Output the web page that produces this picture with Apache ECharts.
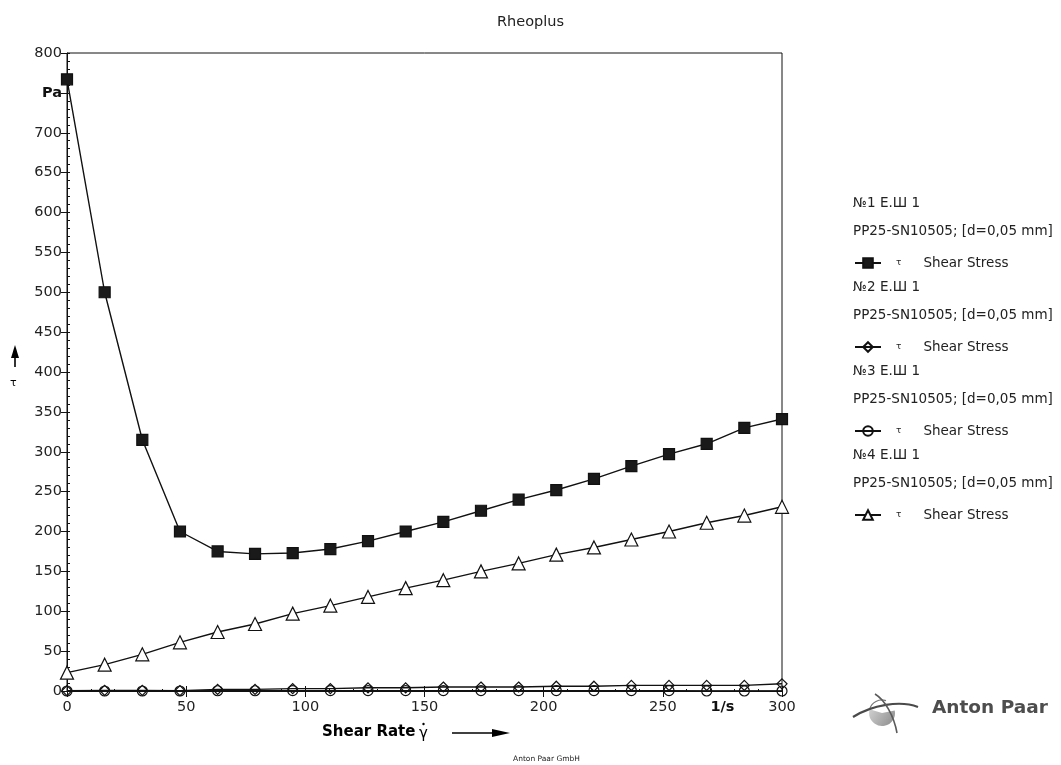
<!DOCTYPE html>
<html><head><meta charset="utf-8">
<script src="https://cdn.jsdelivr.net/npm/echarts@6/dist/echarts.min.js"></script>
<style>html,body{margin:0;background:#fff}#c{width:1061px;height:765px}</style>
</head><body><div id="c"></div>
<script>
const shearRate=[0,15.8,31.6,47.4,63.2,78.9,94.7,110.5,126.3,142.1,157.9,173.7,189.5,205.3,221.1,236.8,252.6,268.4,284.2,300];
const stress1=[767,500,315,200,175,172,173,178,188,200,212,226,240,252,266,282,297,310,330,341];
const stress2=[0.5,0.8,0.8,0.5,2,2,3,3,4,4,5,5,5,6,6,7,7,7,7,9];
const stress3=[0,0,0,0,0.3,0.3,0.5,0.5,0.5,0.5,0.5,0.5,0.5,0.5,0.5,0.5,0.5,0,0,0];
const stress4=[23,33,46,61,74,84,97,107,118,129,139,150,160,171,180,190,200,211,220,231];
const xLabelValues=[0,50,100,150,200,250,275,300];
const xUnitAt=275, xUnit='1/s';
const yUnitAt=750, yUnit='Pa';
const sampleNames=['№1 Е.Ш 1','№2 Е.Ш 1','№3 Е.Ш 1','№4 Е.Ш 1'];
const systemName='PP25-SN10505; [d=0,05 mm]';
const seriesNames=['№1 τ Shear Stress','№2 τ Shear Stress','№3 τ Shear Stress','№4 τ Shear Stress'];

const FONT='DejaVu Sans';
const chart=echarts.init(document.getElementById('c'));
const pts=a=>a.map((v,i)=>[shearRate[i],v]);
const mk=(name,data,symbol,size,fill)=>({
  name,type:'line',data:pts(data),symbol,symbolSize:size,
  lineStyle:{color:'#111',width:1.4},
  itemStyle:{color:fill,borderColor:'#111',borderWidth:1.2},
  emphasis:{disabled:true},animation:false
});
const legendTops=[252,336,420,504];
const legends=seriesNames.map((n,i)=>({
  data:[n],left:849,top:legendTops[i]-1,itemWidth:26,itemHeight:12,
  formatter:()=>'{t|τ}{s|Shear Stress}',
  textStyle:{fontFamily:FONT,color:'#222',rich:{t:{fontSize:9,fontFamily:FONT,padding:[0,22,0,10],color:'#222'},s:{fontSize:13.5,fontFamily:FONT,color:'#222'}}},
  selectedMode:false
}));
const g=[];
sampleNames.forEach((s,i)=>{
  const y0=203+i*84;
  g.push({type:'text',left:853,top:y0-7,style:{text:s,font:'13.5px "DejaVu Sans"',fill:'#222'}});
  g.push({type:'text',left:853,top:y0+21,style:{text:systemName,font:'13.5px "DejaVu Sans"',fill:'#222'}});
});
// y-axis name with arrow
g.push({type:'line',shape:{x1:15,y1:367,x2:15,y2:355},style:{stroke:'#000',lineWidth:1.6}});
g.push({type:'polygon',shape:{points:[[15,345],[11,358],[19,358]]},style:{fill:'#000'}});
g.push({type:'text',left:10,top:378,style:{text:'τ',font:'11px "DejaVu Sans"',fill:'#000'}});
// x-axis name with arrow
g.push({type:'text',left:322,top:725,style:{text:'Shear Rate',font:'bold 15px "DejaVu Sans"',fill:'#000'}});
g.push({type:'text',left:419,top:727,style:{text:'γ',font:'15px "DejaVu Sans"',fill:'#000'}});
g.push({type:'circle',shape:{cx:423.5,cy:724,r:1.2},style:{fill:'#000'}});
g.push({type:'line',shape:{x1:452,y1:733,x2:494,y2:733},style:{stroke:'#000',lineWidth:1.4}});
g.push({type:'polygon',shape:{points:[[510,733],[492,729],[492,737]]},style:{fill:'#000'}});
// footer
g.push({type:'text',left:513,top:755,style:{text:'Anton Paar GmbH',font:'7.5px "DejaVu Sans"',fill:'#222'}});
// logo
g.push({type:'sector',shape:{cx:882,cy:713,r:13,startAngle:-0.2,endAngle:Math.PI+0.3},style:{fill:new echarts.graphic.LinearGradient(0,0,1,1,[{offset:0,color:'#d0d0d0'},{offset:1,color:'#8a8a8a'}])}});
g.push({type:'arc',shape:{cx:882,cy:713,r:13,startAngle:Math.PI+0.3,endAngle:Math.PI*1.6},style:{stroke:'#777',lineWidth:1.2,fill:null}});
g.push({type:'bezierCurve',shape:{x1:853,y1:717,x2:918,y2:707,cpx1:872,cpy1:705,cpx2:900,cpy2:700},style:{stroke:'#4a4a4a',lineWidth:2.2,fill:null}});
g.push({type:'bezierCurve',shape:{x1:875,y1:694,x2:897,y2:733,cpx1:885,cpy1:700,cpx2:894,cpy2:716},style:{stroke:'#5a5a5a',lineWidth:1.6,fill:null}});
g.push({type:'text',left:932,top:699,style:{text:'Anton Paar',font:'bold 18.5px "DejaVu Sans"',fill:'#4d4d4d'}});

chart.setOption({
  animation:false,
  backgroundColor:'#fff',
  title:{text:'Rheoplus',left:'center',top:10,textStyle:{fontFamily:FONT,fontSize:14.5,fontWeight:'normal',color:'#222'}},
  grid:{left:67,top:53,right:279,bottom:74,show:true,borderColor:'#111',borderWidth:1,backgroundColor:'transparent'},
  legend:legends,
  xAxis:[{
    type:'value',min:0,max:300,interval:50,position:'bottom',
    axisLine:{onZero:false,lineStyle:{color:'#111',width:1}},
    axisTick:{show:true,inside:false,length:6,lineStyle:{color:'#111'}},
    splitLine:{show:false},
    axisLabel:{customValues:xLabelValues,margin:9,fontFamily:FONT,fontSize:14.5,color:'#222',
      formatter:v=>v===xUnitAt?'{b|'+xUnit+'}':String(v),
      rich:{b:{fontWeight:'bold',fontFamily:FONT,fontSize:14.5,color:'#111'}}}
  },{
    type:'value',min:0,max:300,interval:50,position:'bottom',
    axisLine:{show:false,onZero:false},
    axisTick:{show:true,inside:true,length:5,lineStyle:{color:'#111'}},
    minorTick:{show:true,splitNumber:5,length:2,lineStyle:{color:'#111'}},
    splitLine:{show:false},axisLabel:{show:false}
  }],
  yAxis:[{
    type:'value',min:0,max:800,interval:50,position:'left',
    axisLine:{show:true,onZero:false,lineStyle:{color:'#111',width:1}},
    axisTick:{show:true,inside:false,length:6,lineStyle:{color:'#111'}},
    splitLine:{show:false},
    axisLabel:{margin:5,fontFamily:FONT,fontSize:14.5,color:'#222',
      formatter:v=>v===yUnitAt?'{b|'+yUnit+'}':String(v),
      rich:{b:{fontWeight:'bold',fontFamily:FONT,fontSize:14.5,color:'#111'}}}
  },{
    type:'value',min:0,max:800,interval:50,position:'left',
    axisLine:{show:false,onZero:false},
    axisTick:{show:true,inside:true,length:3,lineStyle:{color:'#111'}},
    minorTick:{show:true,splitNumber:5,length:3,lineStyle:{color:'#111'}},
    splitLine:{show:false},axisLabel:{show:false}
  }],
  series:[
    mk(seriesNames[0],stress1,'rect',11,'#1a1a1a'),
    mk(seriesNames[1],stress2,'diamond',10,'rgba(255,255,255,0)'),
    mk(seriesNames[2],stress3,'circle',10,'rgba(255,255,255,0)'),
    mk(seriesNames[3],stress4,'triangle',13,'#fff')
  ],
  graphic:g
});
</script></body></html>
